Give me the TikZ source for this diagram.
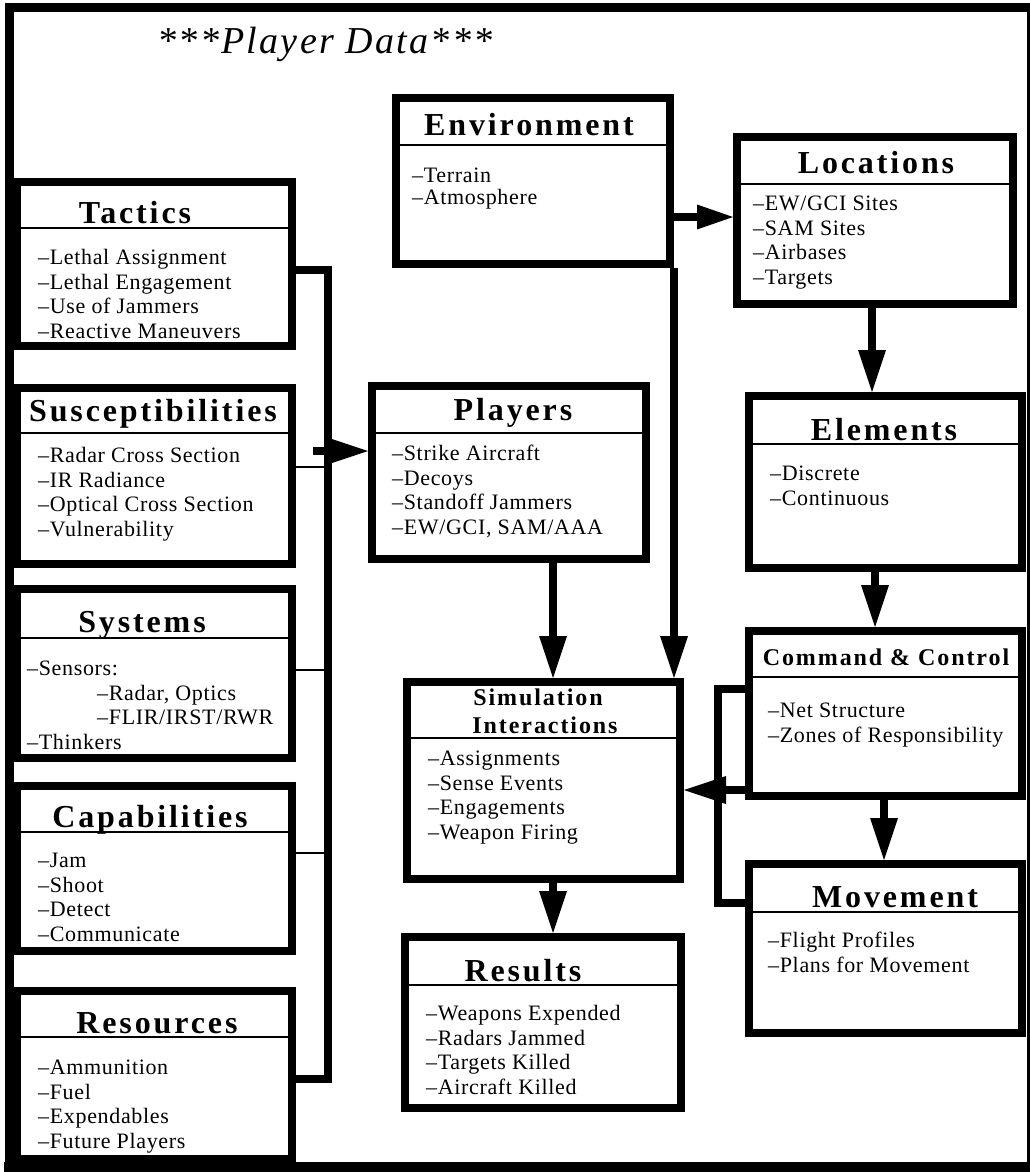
\documentclass[tikz,border=0pt]{standalone}
\usepackage{fontspec}
\setmainfont{Liberation Serif}
\newfontfamily\ttlfont{Liberation Serif}[LetterSpace=9]
\newfontfamily\ttlsfont{Liberation Serif}[LetterSpace=8]
\newfontfamily\itmfont{Liberation Serif}[LetterSpace=3]
\newfontfamily\hedfont{Liberation Serif}[LetterSpace=6]
\usetikzlibrary{arrows.meta}
\begin{document}
\begin{tikzpicture}[x=1pt,y=-1pt,
  box/.style={draw, line width=8pt, rectangle, inner sep=0pt},
  hdr/.style={line width=1.6pt},
  ttl/.style={font=\ttlfont\bfseries\fontsize{32}{32}\selectfont, inner sep=0pt, anchor=base},
  ttls/.style={font=\ttlsfont\bfseries\fontsize{24}{26}\selectfont, inner sep=0pt, anchor=base},
  itm/.style={font=\itmfont\fontsize{22}{24.6}\selectfont, align=left, inner sep=0pt, anchor=north west},
  wire/.style={line width=8pt},
  tap/.style={line width=2pt},
  arr/.style={line width=8pt, -{Triangle[length=42pt,width=28pt,line width=0pt]}},
  arrs/.style={line width=8pt, -{Triangle[length=36pt,width=25pt,line width=0pt]}}
]
\useasboundingbox (0,0) rectangle (1030,1172);

% outer frame
\draw[line width=9pt] (9,1172) -- (9,7.5) -- (1030,7.5);
\draw[line width=10pt] (4,1167) -- (1030,1167);
\draw[line width=3pt] (1028.5,3) -- (1028.5,1172);

\node[font=\hedfont\itshape\fontsize{38}{38}\selectfont, inner sep=0pt, anchor=base] (head) at (325,54) {***Player Data***};

% ---------- left column ----------
\node[box, minimum width=275pt, minimum height=164pt] (tac) at (154.5,264) {};
\draw[hdr] (tac.west |- 0,228) -- (tac.east |- 0,228);
\node[ttl] (tacT) at (135,223) {Tactics};
\node[itm] (tacI) at (38,247) {\strut –Lethal Assignment\\–Lethal Engagement\\–Use of Jammers\\–Reactive Maneuvers};

\node[box, minimum width=275pt, minimum height=176pt] (sus) at (154.5,476) {};
\draw[hdr] (sus.west |- 0,433) -- (sus.east |- 0,433);
\node[ttl] (susT) at (153,421) {Susceptibilities};
\node[itm] (susI) at (38,445) {\strut –Radar Cross Section\\–IR Radiance\\–Optical Cross Section\\–Vulnerability};

\node[box, minimum width=275pt, minimum height=169pt] (sys) at (154.5,673.5) {};
\draw[hdr] (sys.west |- 0,638) -- (sys.east |- 0,638);
\node[ttl] (sysT) at (142,632) {Systems};
\node[itm] (sysI) at (27,658) {\strut –Sensors:\\\hspace*{70pt}–Radar, Optics\\\hspace*{70pt}–FLIR/IRST/RWR\\–Thinkers};

\node[box, minimum width=275pt, minimum height=165pt] (cap) at (154.5,868.5) {};
\draw[hdr] (cap.west |- 0,832) -- (cap.east |- 0,832);
\node[ttl] (capT) at (150,827) {Capabilities};
\node[itm] (capI) at (38,850) {\strut –Jam\\–Shoot\\–Detect\\–Communicate};

\node[box, minimum width=275pt, minimum height=168pt] (res) at (154.5,1075) {};
\draw[hdr] (res.west |- 0,1037) -- (res.east |- 0,1037);
\node[ttl] (resT) at (157,1033) {Resources};
\node[itm] (resI) at (38,1057) {\strut –Ammunition\\–Fuel\\–Expendables\\–Future Players};

% ---------- middle column ----------
\node[box, minimum width=274pt, minimum height=166pt] (env) at (533,181) {};
\draw[hdr] (env.west |- 0,145) -- (env.east |- 0,145);
\node[ttl] (envT) at (529,135) {Environment};
\node[itm, font=\itmfont\fontsize{22}{19}\selectfont] (envI) at (412,168) {\strut –Terrain\\–Atmosphere};

\node[box, minimum width=274pt, minimum height=173pt] (ply) at (509,472.5) {};
\draw[hdr] (ply.west |- 0,433) -- (ply.east |- 0,433);
\node[ttl] (plyT) at (513,420) {Players};
\node[itm] (plyI) at (392,443) {\strut –Strike Aircraft\\–Decoys\\–Standoff Jammers\\–EW/GCI, SAM/AAA};

\node[box, minimum width=273pt, minimum height=197pt] (sim) at (543.5,780.5) {};
\draw[hdr] (sim.west |- 0,738) -- (sim.east |- 0,738);
\node[ttls] (simT) at (538,705) {Simulation};
\node[ttls] (simT2) at (545,733) {Interactions};
\node[itm] (simI) at (428,748) {\strut –Assignments\\–Sense Events\\–Engagements\\–Weapon Firing};

\node[box, minimum width=276pt, minimum height=171pt] (rsl) at (543,1022.5) {};
\draw[hdr] (rsl.west |- 0,985) -- (rsl.east |- 0,985);
\node[ttl] (rslT) at (523,981) {Results};
\node[itm] (rslI) at (426,1003) {\strut –Weapons Expended\\–Radars Jammed\\–Targets Killed\\–Aircraft Killed};

% ---------- right column ----------
\node[box, minimum width=276pt, minimum height=167pt] (loc) at (875,220.5) {};
\draw[hdr] (loc.west |- 0,184) -- (loc.east |- 0,184);
\node[ttl] (locT) at (876,173) {Locations};
\node[itm] (locI) at (753,193) {\strut –EW/GCI Sites\\–SAM Sites\\–Airbases\\–Targets};

\node[box, minimum width=273pt, minimum height=172pt] (ele) at (885.5,482) {};
\draw[hdr] (ele.west |- 0,444) -- (ele.east |- 0,444);
\node[ttl] (eleT) at (884,440) {Elements};
\node[itm] (eleI) at (770,463) {\strut –Discrete\\–Continuous};

\node[box, minimum width=273pt, minimum height=165pt] (cc) at (885.5,713.5) {};
\draw[hdr] (cc.west |- 0,677) -- (cc.east |- 0,677);
\node[ttls] (ccT) at (886,665) {Command \& Control};
\node[itm] (ccI) at (768,700) {\strut –Net Structure\\–Zones of Responsibility};

\node[box, minimum width=273pt, minimum height=169pt] (mov) at (885.5,948.5) {};
\draw[hdr] (mov.west |- 0,912) -- (mov.east |- 0,912);
\node[ttl] (movT) at (895,907) {Movement};
\node[itm] (movI) at (768,930) {\strut –Flight Profiles\\–Plans for Movement};

% ---------- connectors ----------
% collecting bus on the left
\coordinate (busTop) at (328,270);
\coordinate (busBot) at (328,1079);
\coordinate (tapSus) at (328,467);
\coordinate (tapSys) at (328,670);
\coordinate (tapCap) at (328,853);
\coordinate (busOut) at (313,451);
\draw[wire] (tac.east |- busTop) -- (busTop) -- (busBot) -- (res.east |- busBot);
\draw[tap] (sus.east |- tapSus) -- (tapSus);
\draw[tap] (sys.east |- tapSys) -- (tapSys);
\draw[tap] (cap.east |- tapCap) -- (tapCap);
\draw[arr] (busOut) -- (ply.west |- busOut);

% environment feeds
\coordinate (envRow) at (0,217);
\draw[arrs] (env.east |- envRow) -- (loc.west |- envRow);
\draw[arr] (env.south east) -- (sim.north -| env.south east);

% right column chain
\coordinate (colA) at (872,0);
\coordinate (colB) at (875,0);
\coordinate (colC) at (884,0);
\draw[arr] (loc.south -| colA) -- (ele.north -| colA);
\draw[arr] (ele.south -| colB) -- (cc.north -| colB);
\draw[arr] (cc.south -| colC) -- (mov.north -| colC);

% middle chain
\coordinate (colP) at (553,0);
\draw[arr] (ply.south -| colP) -- (sim.north -| colP);
\draw[arr] (sim.south -| colP) -- (rsl.north -| colP);

% command & control into the simulation, and the loop to movement
\coordinate (ccRow) at (0,790);
\draw[arr] (cc.west |- ccRow) -- (sim.east |- ccRow);
\coordinate (loopA) at (718,689);
\coordinate (loopB) at (718,903);
\draw[wire] (cc.west |- loopA) -- (loopA) -- (loopB) -- (mov.west |- loopB);
\end{tikzpicture}
\end{document}
